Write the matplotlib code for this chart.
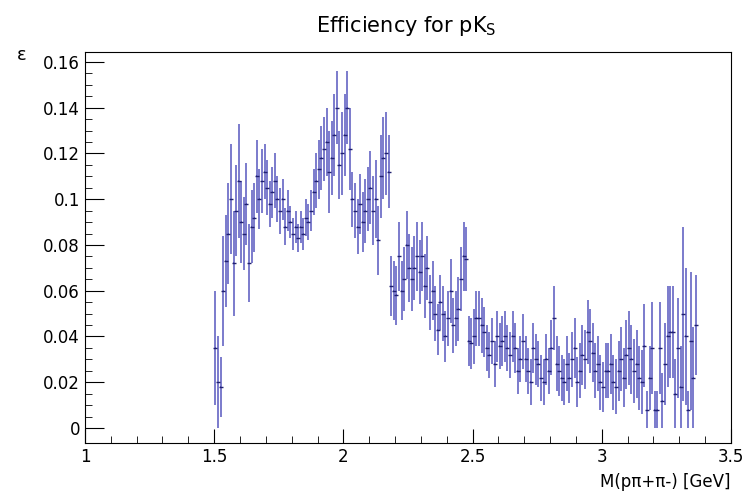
import numpy as np
import matplotlib.pyplot as plt

# bin centres start at 1.505 GeV, width 0.01
x_start = 1.505
bin_w = 0.01

eff = [
    0.035, 0.020, 0.018, 0.060, 0.073, 0.085, 0.100, 0.072, 0.095, 0.108,  # 1.50
    0.090, 0.085, 0.098, 0.072, 0.088, 0.092, 0.110, 0.100, 0.108, 0.112,  # 1.60
    0.105, 0.098, 0.103, 0.108, 0.100, 0.095, 0.100, 0.088, 0.095, 0.090,  # 1.70
    0.085, 0.088, 0.083, 0.088, 0.085, 0.092, 0.090, 0.095, 0.103, 0.108,  # 1.80
    0.113, 0.118, 0.122, 0.125, 0.112, 0.118, 0.128, 0.140, 0.115, 0.120,  # 1.90
    0.128, 0.140, 0.122, 0.100, 0.095, 0.088, 0.098, 0.090, 0.095, 0.100,  # 2.00
    0.105, 0.095, 0.100, 0.082, 0.110, 0.118, 0.120, 0.112, 0.062, 0.060,  # 2.10
    0.058, 0.075, 0.060, 0.065, 0.080, 0.070, 0.065, 0.070, 0.075, 0.068,  # 2.20
    0.075, 0.062, 0.070, 0.055, 0.060, 0.050, 0.043, 0.055, 0.050, 0.040,  # 2.30
    0.048, 0.060, 0.045, 0.048, 0.052, 0.065, 0.075, 0.074, 0.038, 0.037,  # 2.40
    0.040, 0.048, 0.048, 0.045, 0.042, 0.035, 0.032, 0.038, 0.028, 0.040,  # 2.50
    0.036, 0.038, 0.040, 0.035, 0.032, 0.040, 0.035, 0.025, 0.030, 0.038,  # 2.60
    0.030, 0.025, 0.020, 0.035, 0.030, 0.028, 0.022, 0.020, 0.030, 0.025,  # 2.70
    0.035, 0.048, 0.028, 0.025, 0.022, 0.020, 0.028, 0.022, 0.030, 0.035,  # 2.80
    0.020, 0.025, 0.032, 0.030, 0.042, 0.038, 0.033, 0.025, 0.028, 0.020,  # 2.90
    0.018, 0.025, 0.025, 0.028, 0.020, 0.018, 0.025, 0.030, 0.022, 0.032,  # 3.00
    0.035, 0.030, 0.025, 0.028, 0.022, 0.020, 0.036, 0.008, 0.022, 0.035,  # 3.10
    0.008, 0.008, 0.035, 0.012, 0.028, 0.040, 0.042, 0.042, 0.015, 0.035,  # 3.20
    0.018, 0.050, 0.040, 0.008, 0.038, 0.022, 0.045,                       # 3.30
]

err = [
    0.025, 0.020, 0.013, 0.024, 0.020, 0.022, 0.024, 0.023, 0.020, 0.025,
    0.018, 0.016, 0.018, 0.017, 0.016, 0.015, 0.016, 0.013, 0.014, 0.012,
    0.012, 0.010, 0.011, 0.012, 0.010, 0.010, 0.009, 0.008, 0.009, 0.007,
    0.007, 0.007, 0.006, 0.007, 0.007, 0.008, 0.008, 0.009, 0.010, 0.012,
    0.013, 0.014, 0.014, 0.015, 0.018, 0.016, 0.018, 0.016, 0.015, 0.018,
    0.018, 0.016, 0.018, 0.012, 0.012, 0.012, 0.013, 0.013, 0.014, 0.014,
    0.016, 0.015, 0.017, 0.015, 0.018, 0.018, 0.018, 0.016, 0.013, 0.013,
    0.013, 0.015, 0.013, 0.014, 0.015, 0.015, 0.014, 0.014, 0.015, 0.014,
    0.015, 0.014, 0.014, 0.012, 0.013, 0.012, 0.011, 0.012, 0.012, 0.011,
    0.012, 0.014, 0.012, 0.012, 0.014, 0.014, 0.015, 0.014, 0.011, 0.011,
    0.012, 0.012, 0.012, 0.012, 0.011, 0.010, 0.010, 0.010, 0.010, 0.011,
    0.010, 0.011, 0.011, 0.010, 0.010, 0.011, 0.011, 0.010, 0.010, 0.012,
    0.010, 0.010, 0.010, 0.011, 0.011, 0.010, 0.010, 0.010, 0.011, 0.010,
    0.012, 0.014, 0.012, 0.011, 0.010, 0.010, 0.012, 0.011, 0.012, 0.013,
    0.011, 0.012, 0.013, 0.013, 0.014, 0.014, 0.013, 0.012, 0.012, 0.012,
    0.011, 0.012, 0.012, 0.013, 0.012, 0.012, 0.013, 0.014, 0.013, 0.015,
    0.016, 0.015, 0.014, 0.015, 0.014, 0.014, 0.018, 0.008, 0.014, 0.020,
    0.008, 0.008, 0.020, 0.012, 0.018, 0.022, 0.020, 0.020, 0.015, 0.022,
    0.018, 0.038, 0.030, 0.008, 0.030, 0.022, 0.022,
]

x = x_start + bin_w * np.arange(len(eff))
col = '#3b3bb3'

fig = plt.figure(figsize=(7.52, 4.99), dpi=100)
ax = fig.add_axes([0.113, 0.112, 0.859, 0.784])
ax.errorbar(x, eff, yerr=err, xerr=bin_w * 0.12, fmt='none', ecolor=col,
            elinewidth=1.1, capsize=0, alpha=0.85)
ax.plot(x, eff, linestyle='none', marker='_', markersize=3, color='#202070')

ax.set_xlim(1, 3.5)
ax.set_ylim(-0.0066, 0.1644)
ax.set_xticks([1, 1.5, 2, 2.5, 3, 3.5])
ax.set_xticklabels(['1', '1.5', '2', '2.5', '3', '3.5'])
ax.set_yticks([0, 0.02, 0.04, 0.06, 0.08, 0.1, 0.12, 0.14, 0.16])
ax.set_yticklabels(['0', '0.02', '0.04', '0.06', '0.08', '0.1', '0.12', '0.14', '0.16'])
ax.set_xticks(np.arange(1, 3.5, 0.1), minor=True)
ax.set_yticks(np.arange(0, 0.165, 0.005), minor=True)
ax.tick_params(which='both', direction='in', top=False, right=False, labelsize=12)
ax.tick_params(which='major', length=10)
ax.tick_params(which='minor', length=5)
ax.tick_params(axis='y', which='major', length=14)

fig.text(0.54, 0.935, r'Efficiency for pK$_\mathrm{S}$', ha='center', fontsize=15)
fig.text(0.022, 0.88, '\u03b5', fontsize=13)
fig.text(0.972, 0.025, 'M(p\u03c0+\u03c0-) [GeV]', ha='right', fontsize=12)

fig.savefig('out.png', dpi=100)
